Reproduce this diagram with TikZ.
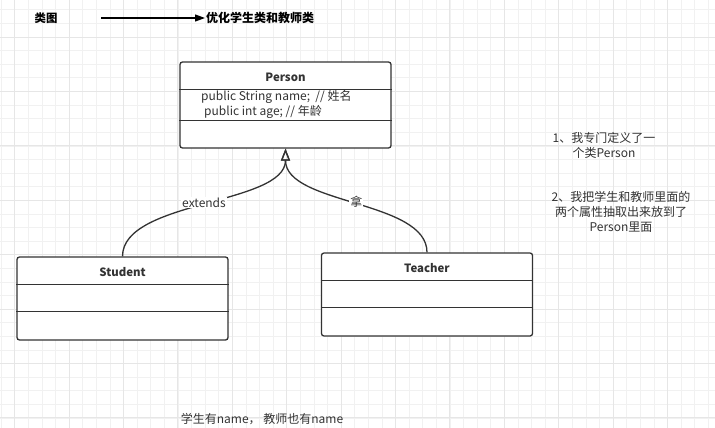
\documentclass[tikz,border=0pt]{standalone}
\usepackage{fontspec}
\setmainfont{Noto Sans CJK SC}
\usepackage{xcolor}
\usetikzlibrary{arrows.meta, positioning, calc}

\definecolor{boxgray}{HTML}{333333}
\definecolor{gridminor}{HTML}{F1F1F1}
\definecolor{gridmajor}{HTML}{E6E6E6}

\begin{document}
\begin{tikzpicture}[x=1pt, y=-1pt,
    umlclass/.style={draw=boxgray, line width=1.3pt, rounded corners=2.5pt, minimum width=211pt, fill=white},
    classname/.style={font=\bfseries\fontsize{11.4}{13}\selectfont, text=boxgray},
    sep/.style={draw=boxgray, line width=1.2pt},
    plain/.style={font=\fontsize{12}{15}\selectfont, text=boxgray},
    inherit/.style={draw=boxgray, line width=1.3pt, -{Triangle[open, length=12pt, width=9pt]}},
    arrow/.style={draw=black, line width=1.2pt, -{Triangle[length=10pt, width=7pt]}}
]
    % background with grid
    \fill[white] (0,0) rectangle (715,428);
    \useasboundingbox (0,0) rectangle (715,428);
    \foreach \gx in {1,14.6,...,715} \draw[gridminor, line width=0.6pt] (\gx,0) -- (\gx,428);
    \foreach \gy in {9.8,23.4,...,428} \draw[gridminor, line width=0.6pt] (0,\gy) -- (715,\gy);
    \foreach \gx in {14.6,69,...,715} \draw[gridmajor, line width=0.7pt] (\gx,0) -- (\gx,428);
    \foreach \gy in {37,91.4,...,428} \draw[gridmajor, line width=0.7pt] (0,\gy) -- (715,\gy);

    % title line
    \node[classname, text=black] (leitu) at (46,18) {类图};
    \node[classname, font=\bfseries\fontsize{12}{14}\selectfont, text=black, anchor=west, inner sep=1pt] (goal) at (205,18) {优化学生类和教师类};
    \coordinate (arrstart) at (101,18);
    \draw[arrow] (arrstart) -- (goal.west);

    % Person
    \node[umlclass, minimum height=86pt] (person) at (285.5,105) {};
    \node[classname] (personname) at (285.5,77) {Person};
    \draw[sep] ($(person.north west)+(0,28)$) -- ($(person.north east)+(0,28)$);
    \draw[sep] ($(person.north west)+(0,59)$) -- ($(person.north east)+(0,59)$);
    \node[plain, anchor=north west, align=left, inner sep=0pt] (personattr) at (201,90.5)
        {public String name;\ \ // 姓名\\\hspace{3pt}public int age; // 年龄};

    % Student
    \node[umlclass, minimum height=83pt] (student) at (122.5,298.5) {};
    \node[classname] (studentname) at (122.5,272) {Student};
    \draw[sep] ($(student.north west)+(0,28)$) -- ($(student.north east)+(0,28)$);
    \draw[sep] ($(student.north west)+(0,55)$) -- ($(student.north east)+(0,55)$);

    % Teacher
    \node[umlclass, minimum height=83pt] (teacher) at (427,294.5) {};
    \node[classname] (teachername) at (427,268) {Teacher};
    \draw[sep] ($(teacher.north west)+(0,28)$) -- ($(teacher.north east)+(0,28)$);
    \draw[sep] ($(teacher.north west)+(0,55)$) -- ($(teacher.north east)+(0,55)$);

    % inheritance
    \draw[inherit] (student.north) .. controls (122.5,200) and (285.5,205) .. (person.south)
        node[plain, pos=0.5, fill=white, inner sep=1pt] (extlabel) {extends};
    \draw[inherit] (teacher.north) .. controls (427,200) and (285.5,205) .. (person.south)
        node[plain, pos=0.5, fill=white, inner sep=1pt] (nalabel) {拿};

    % notes
    \node[plain, align=center] (note1) at (604,145) {1、我专门定义了一\\个类Person};
    \node[plain, align=center] (note2) at (621,212) {2、我把学生和教师里面的\\两个属性抽取出来放到了\\Person里面};
    \node[plain] (bottomnote) at (262,419) {学生有name， 教师也有name};
\end{tikzpicture}
\end{document}
